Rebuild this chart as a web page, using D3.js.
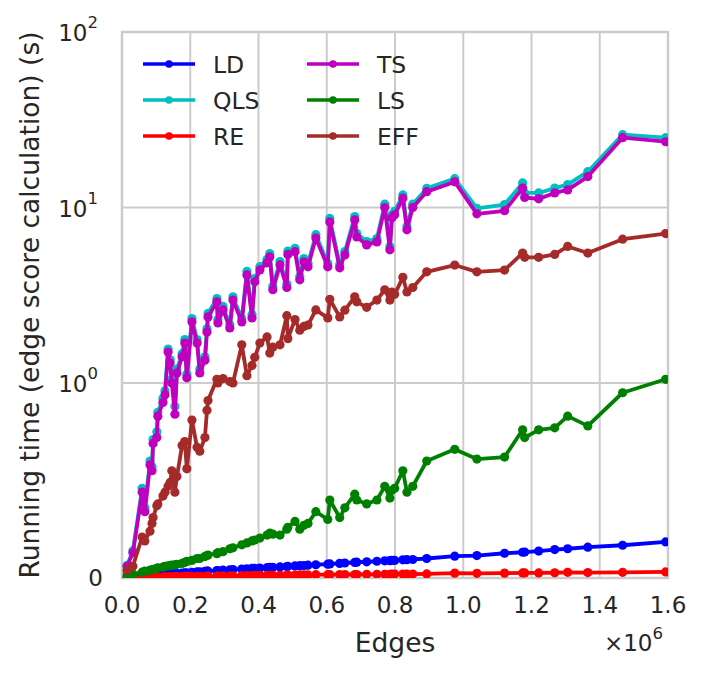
<!DOCTYPE html>
<html>
<head>
<meta charset="utf-8">
<script src="https://cdn.jsdelivr.net/npm/d3@7"></script>
<style>
  html, body { margin: 0; padding: 0; background: #fff; }
  text { font-family: "DejaVu Sans", sans-serif; fill: #262626; }
</style>
</head>
<body>
<div id="chart"></div>
<script>
// Edge counts shared by every method
const edges = [15000, 32000, 59000, 67000, 82000, 88000, 91000, 102000, 105000, 120000,
  126000, 135000, 141000, 146000, 155000, 161000, 176000, 184000, 190000, 205000,
  220000, 228000, 243000, 249000, 252000, 278000, 281000, 296000, 316000, 325000,
  351000, 366000, 381000, 389000, 404000, 425000, 433000, 442000, 463000, 483000,
  486000, 507000, 521000, 533000, 545000, 568000, 603000, 609000, 638000, 653000,
  682000, 688000, 717000, 747000, 770000, 785000, 791000, 799000, 823000, 835000,
  852000, 893000, 975000, 1040000, 1121000, 1174000, 1180000, 1221000, 1268000, 1306000,
  1365000, 1467000, 1593000];

// Running times (s) per method
const ldTimes = [0.003, 0.005, 0.008, 0.009, 0.011, 0.012, 0.013, 0.014, 0.015, 0.017,
  0.018, 0.019, 0.02, 0.021, 0.022, 0.023, 0.025, 0.026, 0.027, 0.029,
  0.031, 0.032, 0.034, 0.035, 0.035, 0.038, 0.038, 0.04, 0.042, 0.043,
  0.046, 0.047, 0.049, 0.05, 0.051, 0.053, 0.054, 0.055, 0.057, 0.059,
  0.06, 0.062, 0.063, 0.064, 0.066, 0.068, 0.071, 0.072, 0.075, 0.077,
  0.08, 0.081, 0.083, 0.086, 0.088, 0.089, 0.09, 0.09, 0.093, 0.094,
  0.095, 0.1, 0.112, 0.115, 0.127, 0.132, 0.133, 0.138, 0.146, 0.15,
  0.158, 0.168, 0.185];

const qlsTimes = [0.065, 0.14, 0.46, 0.36, 0.60, 0.57, 0.71, 0.75, 0.85, 0.92,
  0.96, 1.56, 1.36, 1.05, 0.88, 1.2, 1.47, 1.77, 1.12, 2.33,
  1.77, 1.2, 1.41, 2.04, 2.49, 3.03, 2.3, 2.73, 2.15, 3.1,
  2.33, 4.32, 2.46, 3.94, 4.6, 5.06, 5.46, 3.56, 4.92, 3.66,
  5.65, 5.85, 4.05, 5.12, 4.8, 7.0, 4.8, 8.66, 4.73, 5.61,
  8.88, 7.1, 6.4, 6.66, 10.45, 6.0, 9.12, 9.5, 11.8, 7.8,
  10.45, 12.85, 14.6, 9.9, 10.4, 13.8, 12.1, 12.1, 12.9, 13.5,
  16.0, 26.0, 25.0];

const reTimes = [0.001, 0.002, 0.003, 0.003, 0.004, 0.004, 0.004, 0.005, 0.005, 0.005,
  0.006, 0.006, 0.006, 0.006, 0.007, 0.007, 0.007, 0.008, 0.008, 0.008,
  0.009, 0.009, 0.009, 0.01, 0.01, 0.01, 0.01, 0.011, 0.011, 0.011,
  0.012, 0.012, 0.012, 0.013, 0.013, 0.013, 0.014, 0.014, 0.014, 0.015,
  0.015, 0.015, 0.016, 0.016, 0.016, 0.017, 0.017, 0.017, 0.018, 0.018,
  0.018, 0.018, 0.019, 0.019, 0.019, 0.019, 0.02, 0.02, 0.02, 0.02,
  0.02, 0.021, 0.025, 0.024, 0.025, 0.026, 0.026, 0.026, 0.027, 0.029,
  0.028, 0.029, 0.031];

const tsTimes = [0.06, 0.13, 0.44, 0.34, 0.58, 0.55, 0.69, 0.72, 0.83, 0.90,
  0.94, 1.50, 1.30, 1.00, 0.84, 1.14, 1.41, 1.69, 1.07, 2.23,
  1.69, 1.14, 1.35, 1.95, 2.38, 2.90, 2.20, 2.61, 2.06, 2.97,
  2.23, 4.13, 2.35, 3.77, 4.41, 4.84, 5.23, 3.40, 4.71, 3.50,
  5.40, 5.60, 3.87, 4.90, 4.59, 6.70, 4.59, 8.28, 4.53, 5.37,
  8.50, 6.80, 6.12, 6.37, 10.0, 5.74, 8.73, 9.08, 11.3, 7.46,
  10.0, 12.3, 14.0, 9.2, 9.58, 12.9, 11.4, 11.2, 12.1, 12.6,
  15.0, 25.0, 23.7];

const lsTimes = [0.015, 0.02, 0.03, 0.035, 0.04, 0.042, 0.044, 0.05, 0.052, 0.056,
  0.06, 0.062, 0.064, 0.066, 0.067, 0.07, 0.075, 0.08, 0.085, 0.09,
  0.10, 0.10, 0.11, 0.115, 0.118, 0.125, 0.13, 0.135, 0.15, 0.155,
  0.17, 0.18, 0.19, 0.195, 0.205, 0.22, 0.23, 0.225, 0.22, 0.25,
  0.26, 0.29, 0.25, 0.27, 0.28, 0.34, 0.30, 0.40, 0.31, 0.36,
  0.43, 0.40, 0.38, 0.40, 0.47, 0.41, 0.45, 0.46, 0.55, 0.44,
  0.47, 0.60, 0.66, 0.61, 0.62, 0.76, 0.72, 0.76, 0.77, 0.83,
  0.78, 0.95, 1.05];

const effTimes = [0.04, 0.06, 0.21, 0.19, 0.24, 0.28, 0.31, 0.37, 0.38, 0.42,
  0.44, 0.47, 0.49, 0.55, 0.44, 0.52, 0.68, 0.70, 0.56, 0.81,
  0.67, 0.65, 0.72, 0.86, 0.91, 1.05, 1.00, 1.06, 1.02, 1.00,
  1.65, 1.10, 1.26, 1.40, 1.69, 1.83, 1.48, 1.60, 1.65, 2.42,
  1.79, 2.30, 2.00, 2.10, 2.14, 2.61, 2.35, 3.00, 2.38, 2.60,
  3.10, 2.90, 2.70, 2.97, 3.40, 2.97, 3.30, 3.20, 4.00, 3.30,
  3.50, 4.30, 4.70, 4.30, 4.40, 5.50, 5.20, 5.20, 5.40, 6.00,
  5.50, 6.60, 7.10];

// Series in plotting order (legend fills column by column)
const seriesNames = ["LD", "QLS", "RE", "TS", "LS", "EFF"];
const seriesColors = ["#0000ff", "#00bfbf", "#ff0000", "#bf00bf", "#008000", "#a52a2a"];
const seriesValues = [ldTimes, qlsTimes, reTimes, tsTimes, lsTimes, effTimes];

const xTicks = [0, 200000, 400000, 600000, 800000, 1000000, 1200000, 1400000, 1600000];
const yTicks = [0, 1, 10, 100];

(function () {
  const width = 707;
  const height = 676;
  const margin = { top: 32, right: 39, bottom: 98, left: 122 };
  const innerW = width - margin.left - margin.right;
  const innerH = height - margin.top - margin.bottom;

  // matplotlib-style symlog (linthresh 1, linscale 1, base 10)
  const linscaleAdj = 1 / (1 - 1 / 10);
  const symlog = (v) => (v <= 1 ? v * linscaleAdj : linscaleAdj + Math.log10(v));

  const x = d3.scaleLinear().domain([0, 1600000]).range([margin.left, margin.left + innerW]);
  const yT = d3.scaleLinear().domain([0, symlog(100)]).range([margin.top + innerH, margin.top]);
  const y = (v) => yT(symlog(v));

  const svg = d3.select("#chart")
    .append("svg")
    .attr("width", width)
    .attr("height", height);

  svg.append("defs").append("clipPath")
    .attr("id", "plot-clip")
    .append("rect")
    .attr("x", margin.left)
    .attr("y", margin.top)
    .attr("width", innerW)
    .attr("height", innerH);

  // Grid lines
  const grid = svg.append("g").attr("stroke", "#cccccc").attr("stroke-width", 2);
  grid.selectAll(".gx")
    .data(xTicks)
    .join("line")
    .attr("x1", (d) => x(d))
    .attr("x2", (d) => x(d))
    .attr("y1", margin.top)
    .attr("y2", margin.top + innerH);
  grid.selectAll(".gy")
    .data(yTicks)
    .join("line")
    .attr("x1", margin.left)
    .attr("x2", margin.left + innerW)
    .attr("y1", (d) => y(d))
    .attr("y2", (d) => y(d));

  // Frame
  svg.append("rect")
    .attr("x", margin.left)
    .attr("y", margin.top)
    .attr("width", innerW)
    .attr("height", innerH)
    .attr("fill", "none")
    .attr("stroke", "#cccccc")
    .attr("stroke-width", 2.5);

  // Series lines and markers
  const line = d3.line()
    .x((d) => x(d[0]))
    .y((d) => y(d[1]));

  const plot = svg.append("g").attr("clip-path", "url(#plot-clip)");
  seriesNames.forEach((name, i) => {
    const pts = edges.map((e, j) => [e, seriesValues[i][j]]);
    const g = plot.append("g");
    g.append("path")
      .datum(pts)
      .attr("d", line)
      .attr("fill", "none")
      .attr("stroke", seriesColors[i])
      .attr("stroke-width", 3.8)
      .attr("stroke-linejoin", "round");
    g.selectAll("circle")
      .data(pts)
      .join("circle")
      .attr("cx", (d) => x(d[0]))
      .attr("cy", (d) => y(d[1]))
      .attr("r", 4.6)
      .attr("fill", seriesColors[i]);
  });

  // X tick labels
  svg.append("g")
    .selectAll("text")
    .data(xTicks)
    .join("text")
    .attr("x", (d) => x(d))
    .attr("y", 613)
    .attr("text-anchor", "middle")
    .style("font-size", "23px")
    .text((d) => (d / 1e6).toFixed(1));

  // Offset text ×10^6
  const offset = svg.append("text")
    .attr("x", 663)
    .attr("y", 651)
    .attr("text-anchor", "end")
    .style("font-size", "23px");
  offset.append("tspan").text("\u00d710");
  offset.append("tspan").attr("dy", -12).style("font-size", "16.5px").text("6");

  // Y tick labels
  const yLab = svg.append("g");
  yTicks.forEach((t) => {
    if (t === 0) {
      yLab.append("text")
        .attr("x", 103)
        .attr("y", y(0) + 8)
        .attr("text-anchor", "end")
        .style("font-size", "23px")
        .text("0");
    } else {
      const lbl = yLab.append("text")
        .attr("x", 98)
        .attr("y", y(t) + 9)
        .attr("text-anchor", "end")
        .style("font-size", "23px");
      lbl.append("tspan").text("10");
      lbl.append("tspan").attr("dy", -13).style("font-size", "16.5px").text(String(Math.round(Math.log10(t))));
    }
  });

  // Axis labels
  svg.append("text")
    .attr("x", margin.left + innerW / 2)
    .attr("y", 652)
    .attr("text-anchor", "middle")
    .style("font-size", "26.5px")
    .text("Edges");

  svg.append("text")
    .attr("transform", `translate(39,${margin.top + innerH / 2}) rotate(-90)`)
    .attr("text-anchor", "middle")
    .style("font-size", "26.5px")
    .text("Running time (edge score calculation) (s)");

  // Legend: two columns of three
  const legend = svg.append("g");
  seriesNames.forEach((name, i) => {
    const col = Math.floor(i / 3);
    const row = i % 3;
    const lx = 143 + col * 164;
    const ly = 64 + row * 36;
    const item = legend.append("g");
    item.append("line")
      .attr("x1", lx)
      .attr("x2", lx + 52)
      .attr("y1", ly)
      .attr("y2", ly)
      .attr("stroke", seriesColors[i])
      .attr("stroke-width", 3.6);
    item.append("circle")
      .attr("cx", lx + 26)
      .attr("cy", ly)
      .attr("r", 3.8)
      .attr("fill", seriesColors[i]);
    item.append("text")
      .attr("x", lx + 70)
      .attr("y", ly + 8.5)
      .style("font-size", "23.5px")
      .text(name);
  });
})();
</script>
</body>
</html>
